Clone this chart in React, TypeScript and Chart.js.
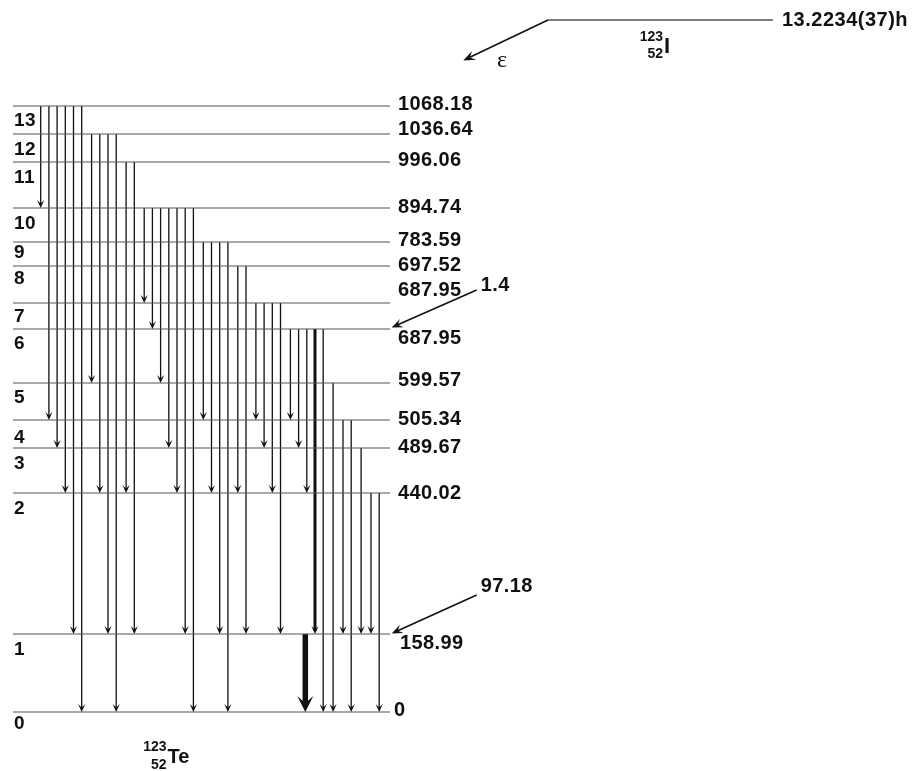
import React, { useEffect, useRef } from "react";
import { Chart, registerables } from "chart.js";

Chart.register(...registerables);

// ---------------- data ----------------
// Levels of 123Te, index 0..13
const levelNumbers = [0, 1, 2, 3, 4, 5, 6, 7, 8, 9, 10, 11, 12, 13];
const levelEnergies = [
  "0", "158.99", "440.02", "489.67", "505.34", "599.57", "687.95",
  "687.95", "697.52", "783.59", "894.74", "996.06", "1036.64", "1068.18",
];
// schematic drawing height of each level (scheme units, not linear in keV)
const levelDrawHeights = [0, 78, 219, 264, 292, 329, 383, 409, 446, 470, 504, 550, 578, 606];

// gamma transitions: initial level -> final level (left to right)
const gammaFrom = [
  13, 13, 13, 13, 13, 13,
  12, 12, 12, 12,
  11, 11,
  10, 10, 10, 10, 10, 10, 10,
  9, 9, 9, 9,
  8, 8,
  7, 7, 7, 7,
  6, 6, 6, 6, 6,
  5,
  4, 4,
  3,
  2, 2,
  1,
];
const gammaTo = [
  10, 4, 3, 2, 1, 0,
  5, 2, 1, 0,
  2, 1,
  7, 6, 5, 3, 2, 1, 0,
  4, 2, 1, 0,
  2, 1,
  4, 3, 2, 1,
  4, 3, 2, 1, 0,
  0,
  1, 0,
  1,
  1, 0,
  0,
];

// epsilon feeding (intensity labels) into levels
const feedLevels = [6, 1];
const feedIntensities = ["1.4", "97.18"];

const parentMass = "123";
const parentZ = "52";
const parentSymbol = "I";
const parentHalfLife = "13.2234(37)h";
const daughterMass = "123";
const daughterZ = "52";
const daughterSymbol = "Te";
const decayMode = "\u03B5";

// ---------------- layout / style ----------------
const FONT = 'Arial, "Liberation Sans", Helvetica, sans-serif';
const SERIF = '"Liberation Serif", "Times New Roman", serif';
const W = 912;
const H = 771;
const X_MIN = 0;
const X_MAX = 912;
const Y_MIN = -59;
const Y_MAX = 712;
const LEVEL_X0 = 13;
const LEVEL_X1 = 390;
const SLOT_X0 = 40.7;
const SLOT_STEP = 8.2;
const GROUP_GAP = 1.7;
const PARENT_H = 692;
const PARENT_X0 = 548;
const PARENT_X1 = 773;
const EPS_TIP = { x: 463.3, h: 651.5 };
const FEED_TIP_X = 391.7;
const FEED_DX = 85;
const FEED_DH = 39;
const feedTipDh = [1.5, 0.5];
const feedLabelDy = [-4.5, -9];
const energyLabelDy = [-1.5, 9, 0, -1, -1, -2.5, 9, -12.5, -1, -2, -1, -1.5, -4.5, -2];
const indexLabelDy = [11.5, 16, 16, 16, 18, 15, 15, 13.7, 12.6, 11, 15.5, 16, 16, 15];
const LEVEL_COLOR = "#555";
const LINE_COLOR = "#111";
const TEXT_COLOR = "#111";

const gammaWidthOf = (f: number, t: number) => (f === 6 && t === 1 ? 3 : f === 1 && t === 0 ? 5.5 : 1.3);

// x slot of every gamma
const gammaX: number[] = [];
(() => {
  let group = -1;
  let prev = -1;
  let slot = 0;
  gammaFrom.forEach((f, i) => {
    if (f === 1) return;
    if (f !== prev) {
      group++;
      prev = f;
    }
    gammaX[i] = SLOT_X0 + SLOT_STEP * slot + GROUP_GAP * group;
    slot++;
  });
  const strong = gammaFrom.findIndex((f, i) => f === 6 && gammaTo[i] === 1);
  gammaFrom.forEach((f, i) => {
    if (f === 1) gammaX[i] = gammaX[strong] - SLOT_STEP - 1.5;
  });
})();

function lineDs(points: { x: number; y: number }[], color: string, width: number) {
  return {
    data: points,
    showLine: true,
    borderColor: color,
    backgroundColor: color,
    borderWidth: width,
    pointRadius: 0,
    fill: false,
    clip: false as any,
  };
}

function drawHead(
  ctx: CanvasRenderingContext2D,
  tx: number,
  ty: number,
  fx: number,
  fy: number,
  len: number,
  half: number,
  notch: number
) {
  const dx = tx - fx;
  const dy = ty - fy;
  const d = Math.hypot(dx, dy) || 1;
  const ux = dx / d;
  const uy = dy / d;
  const px = -uy;
  const py = ux;
  const bx = tx - ux * len;
  const by = ty - uy * len;
  const nx = tx - ux * len * notch;
  const ny = ty - uy * len * notch;
  ctx.beginPath();
  ctx.moveTo(tx, ty);
  ctx.lineTo(bx + px * half, by + py * half);
  ctx.lineTo(nx, ny);
  ctx.lineTo(bx - px * half, by - py * half);
  ctx.closePath();
  ctx.fill();
}

const decorPlugin = {
  id: "decayDecor",
  afterDatasetsDraw(chart: any) {
    const ctx: CanvasRenderingContext2D = chart.ctx;
    const xs = chart.scales.x;
    const ys = chart.scales.y;
    const X = (v: number) => xs.getPixelForValue(v);
    const Y = (v: number) => ys.getPixelForValue(v);
    ctx.save();
    ctx.fillStyle = LINE_COLOR;
    // gamma arrowheads
    gammaFrom.forEach((f, i) => {
      const t = gammaTo[i];
      const x = X(gammaX[i]);
      const yTip = Y(levelDrawHeights[t]);
      const big = f === 1 && t === 0;
      if (big) drawHead(ctx, x, yTip, x, yTip - 50, 16, 8, 0.55);
      else drawHead(ctx, x, yTip, x, yTip - 50, 8, 3.6, 0.55);
    });
    // feeding arrows
    feedLevels.forEach((lv, i) => {
      const tipX = X(FEED_TIP_X);
      const tipY = Y(levelDrawHeights[lv] + feedTipDh[i]);
      drawHead(ctx, tipX, tipY, X(FEED_TIP_X + FEED_DX), Y(levelDrawHeights[lv] + FEED_DH), 11, 4.5, 0.6);
    });
    // epsilon arrow
    drawHead(ctx, X(EPS_TIP.x), Y(EPS_TIP.h), X(PARENT_X0), Y(PARENT_H), 12, 4.8, 0.6);

    // texts
    ctx.fillStyle = TEXT_COLOR;
    ctx.textBaseline = "middle";
    ctx.textAlign = "left";
    (ctx as any).letterSpacing = "0.4px";
    ctx.font = `bold 20px ${FONT}`;
    levelEnergies.forEach((e, i) => {
      const x = i === 0 ? 394 : i === 1 ? 400 : 398;
      ctx.fillText(e, X(x), Y(levelDrawHeights[i]) + energyLabelDy[i]);
    });
    ctx.font = `bold 19px ${FONT}`;
    levelNumbers.forEach((n, i) => {
      ctx.fillText(String(n), X(14), Y(levelDrawHeights[i]) + indexLabelDy[i]);
    });
    ctx.font = `bold 20px ${FONT}`;
    feedLevels.forEach((lv, i) => {
      ctx.fillText(
        feedIntensities[i],
        X(FEED_TIP_X + FEED_DX + 4),
        Y(levelDrawHeights[lv] + FEED_DH) + feedLabelDy[i]
      );
    });
    // parent half-life
    (ctx as any).letterSpacing = "0.5px";
    ctx.fillText(parentHalfLife, X(PARENT_X1 + 9), Y(PARENT_H));
    (ctx as any).letterSpacing = "0px";
    // decay mode
    ctx.font = `24px ${SERIF}`;
    ctx.textAlign = "center";
    ctx.fillText(decayMode, X(502), Y(PARENT_H) + 41);

    // nuclide labels
    const nuclide = (mass: string, z: string, sym: string, xr: number, yc: number, symSize: number) => {
      ctx.textAlign = "right";
      ctx.font = `bold 14px ${FONT}`;
      ctx.fillText(mass, xr, yc - 9);
      ctx.fillText(z, xr, yc + 8.5);
      ctx.textAlign = "left";
      ctx.font = `bold ${symSize}px ${FONT}`;
      ctx.fillText(sym, xr + 1, yc + 1);
    };
    nuclide(parentMass, parentZ, parentSymbol, X(663), Y(PARENT_H) + 26, 22);
    nuclide(daughterMass, daughterZ, daughterSymbol, X(166.5), Y(Y_MIN) - 14.5, 20);
    ctx.restore();
  },
};

export default function App() {
  const ref = useRef<HTMLCanvasElement | null>(null);
  useEffect(() => {
    if (!ref.current) return;
    const datasets: any[] = [];
    // levels
    levelDrawHeights.forEach((h) => {
      datasets.push(lineDs([{ x: LEVEL_X0, y: h }, { x: LEVEL_X1, y: h }], LEVEL_COLOR, 1.2));
    });
    // gammas
    gammaFrom.forEach((f, i) => {
      const t = gammaTo[i];
      const w = gammaWidthOf(f, t);
      const stop = f === 1 && t === 0 ? 8 : 3;
      datasets.push(
        lineDs(
          [
            { x: gammaX[i], y: levelDrawHeights[f] },
            { x: gammaX[i], y: levelDrawHeights[t] + stop },
          ],
          LINE_COLOR,
          w
        )
      );
    });
    // parent level and epsilon branch
    datasets.push(lineDs([{ x: PARENT_X0, y: PARENT_H }, { x: PARENT_X1, y: PARENT_H }], LEVEL_COLOR, 1.3));
    datasets.push(
      lineDs(
        [
          { x: PARENT_X0, y: PARENT_H },
          { x: EPS_TIP.x + 6, y: EPS_TIP.h + 3 },
        ],
        LINE_COLOR,
        1.6
      )
    );
    // feeding arrows
    feedLevels.forEach((lv, i) => {
      datasets.push(
        lineDs(
          [
            { x: FEED_TIP_X + FEED_DX, y: levelDrawHeights[lv] + FEED_DH },
            { x: FEED_TIP_X + 6, y: levelDrawHeights[lv] + feedTipDh[i] + 2.7 },
          ],
          LINE_COLOR,
          1.6
        )
      );
    });

    const chart = new Chart(ref.current, {
      type: "scatter",
      data: { datasets },
      options: {
        animation: false,
        responsive: false,
        devicePixelRatio: 1,
        events: [],
        layout: { padding: 0 },
        plugins: { legend: { display: false }, tooltip: { enabled: false } },
        scales: {
          x: { type: "linear", display: false, min: X_MIN, max: X_MAX },
          y: { type: "linear", display: false, min: Y_MIN, max: Y_MAX },
        },
        elements: { point: { radius: 0 }, line: { tension: 0 } },
      },
      plugins: [decorPlugin as any],
    });
    return () => chart.destroy();
  }, []);

  return (
    <div style={{ position: "absolute", left: 0, top: 0, width: W, height: H, background: "#fff" }}>
      <canvas ref={ref} width={W} height={H} style={{ display: "block", width: W, height: H }} />
    </div>
  );
}
